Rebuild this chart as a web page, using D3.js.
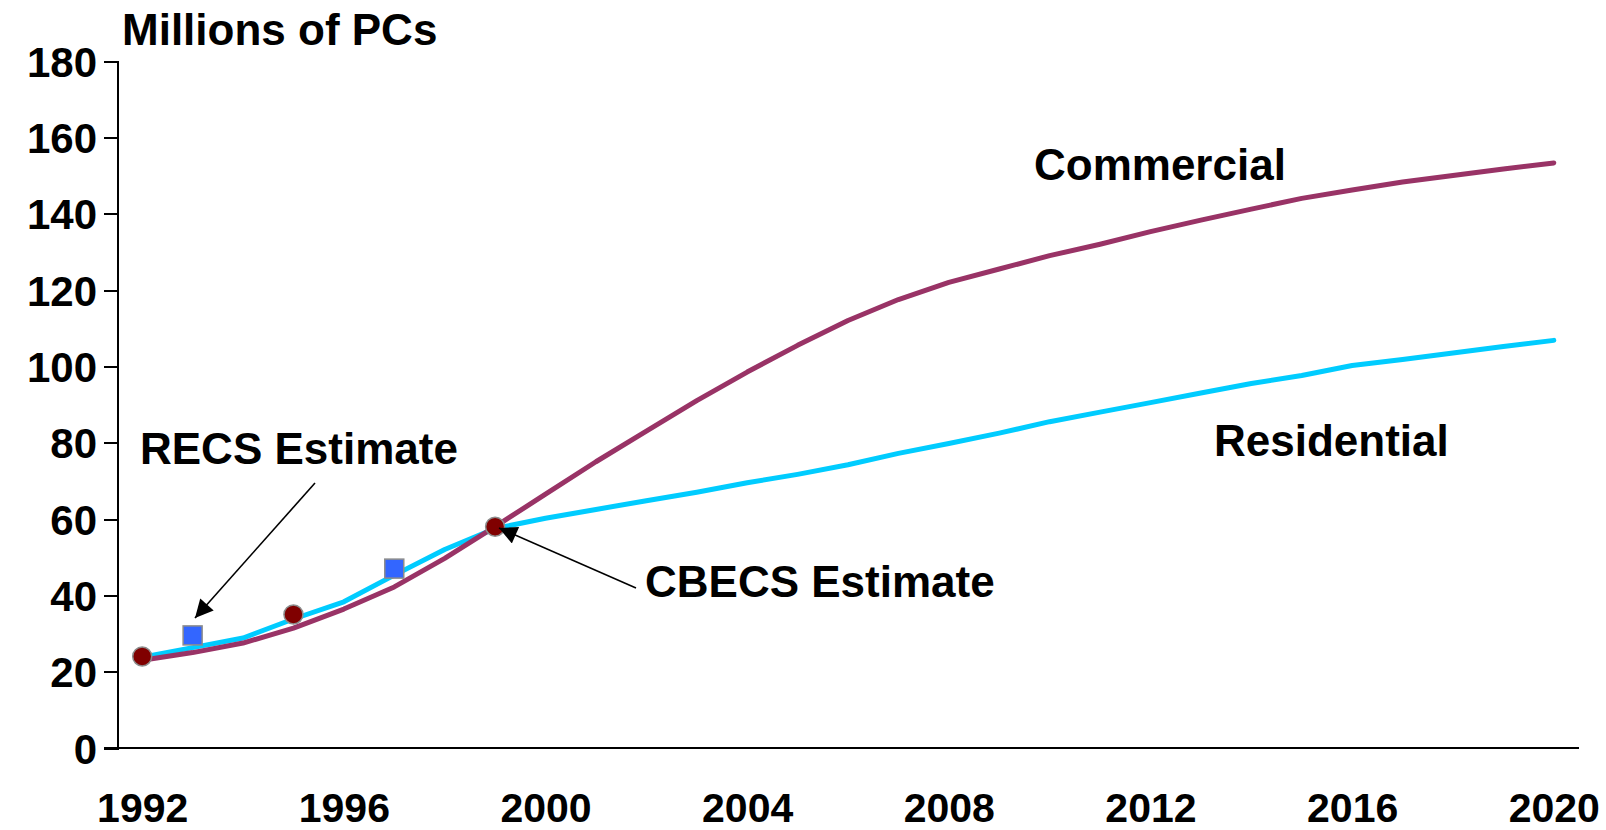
<!DOCTYPE html>
<html>
<head>
<meta charset="utf-8">
<script src="https://cdn.jsdelivr.net/npm/d3@7"></script>
<style>
  html, body { margin: 0; padding: 0; background: #fff; }
  svg { display: block; font-family: "Liberation Sans", Arial, sans-serif; font-weight: bold; }
</style>
</head>
<body>
<svg id="chart" width="1606" height="830"></svg>
<script>
// Installed base of PCs, millions
const years = d3.range(1992, 2021);
const commercial = [23, 25, 27.5, 31.4, 36.4, 42.2, 49.7, 58, 66.5, 75, 83, 91, 98.5, 105.5, 112, 117.5,
  122, 125.5, 129, 132, 135.3, 138.3, 141.2, 144, 146.2, 148.3, 150, 151.7, 153.3];
const residential = [23.8, 26.3, 28.8, 33.8, 38.3, 45.3, 52, 57.5, 60.2, 62.5, 64.8, 67, 69.5, 71.7, 74.2, 77.2,
  79.8, 82.5, 85.5, 88, 90.5, 93, 95.5, 97.6, 100.2, 101.8, 103.5, 105.2, 106.8];

// Survey estimates
const cbecsYears = [1992, 1995, 1999];
const cbecsValues = [24, 35, 58];
const recsYears = [1993, 1997];
const recsValues = [29.5, 47];

const yTicks = [0, 20, 40, 60, 80, 100, 120, 140, 160, 180];
const xTickYears = [1992, 1996, 2000, 2004, 2008, 2012, 2016, 2020];

const svg = d3.select("#chart");

const x = d3.scalePoint().domain(years).range([117, 1579]).padding(0.5);
const y = d3.scaleLinear().domain([0, 180]).range([748, 61]);

// Y axis
const yAxis = svg.append("g")
  .attr("transform", "translate(117,0)")
  .call(d3.axisLeft(y).tickValues(yTicks).tickSize(13).tickPadding(7));
yAxis.select(".domain").attr("stroke", "#000").attr("stroke-width", 2);
yAxis.selectAll(".tick line").attr("stroke", "#000").attr("stroke-width", 2);
yAxis.selectAll(".tick text")
  .attr("font-size", 42).attr("font-weight", "bold").attr("fill", "#000")
  .attr("dy", "0.36em");

// X axis
const xAxis = svg.append("g")
  .attr("transform", "translate(0,748)")
  .call(d3.axisBottom(x).tickValues(xTickYears).tickSize(0).tickPadding(0).tickSizeOuter(0));
xAxis.select(".domain").attr("stroke", "#000").attr("stroke-width", 2)
  .attr("d", "M104,0H1579");
xAxis.selectAll(".tick text")
  .attr("font-size", 41).attr("font-weight", "bold").attr("fill", "#000")
  .attr("y", 74).attr("dy", 0);
svg.selectAll(".domain, .tick line").attr("shape-rendering", "crispEdges");

// Axis title
svg.append("text").attr("x", 122).attr("y", 45)
  .attr("font-size", 44).attr("fill", "#000").text("Millions of PCs");

// Series lines
const line = d3.line().x((d, i) => x(years[i])).y(d => y(d));
svg.append("path").datum(residential)
  .attr("fill", "none").attr("stroke", "#00CCFF").attr("stroke-width", 5)
  .attr("stroke-linejoin", "round").attr("stroke-linecap", "round")
  .attr("d", line);
svg.append("path").datum(commercial)
  .attr("fill", "none").attr("stroke", "#993366").attr("stroke-width", 5)
  .attr("stroke-linejoin", "round").attr("stroke-linecap", "round")
  .attr("d", line);

// Survey markers
svg.selectAll(".cbecs").data(cbecsYears).join("circle")
  .attr("class", "cbecs")
  .attr("cx", d => x(d)).attr("cy", (d, i) => y(cbecsValues[i])).attr("r", 9.5)
  .attr("fill", "#800000").attr("stroke", "#8c8c8c").attr("stroke-width", 1.5);
svg.selectAll(".recs").data(recsYears).join("rect")
  .attr("class", "recs")
  .attr("x", d => x(d) - 9.5).attr("y", (d, i) => y(recsValues[i]) - 9.5)
  .attr("width", 19).attr("height", 19)
  .attr("fill", "#3366FF").attr("stroke", "#8c8c8c").attr("stroke-width", 1.5);

// Arrow marker
svg.append("defs").append("marker")
  .attr("id", "head").attr("viewBox", "0 0 10 10").attr("refX", 10).attr("refY", 5)
  .attr("markerWidth", 22).attr("markerHeight", 18).attr("markerUnits", "userSpaceOnUse")
  .attr("orient", "auto")
  .append("path").attr("d", "M0,0L10,5L0,10Z").attr("fill", "#000");

// Series labels
svg.append("text").attr("x", 1034).attr("y", 180).attr("font-size", 44).attr("fill", "#000").text("Commercial");
svg.append("text").attr("x", 1214).attr("y", 456).attr("font-size", 44).attr("fill", "#000").text("Residential");

// Callouts
svg.append("text").attr("x", 140).attr("y", 464).attr("font-size", 44).attr("fill", "#000").text("RECS Estimate");
svg.append("line").attr("x1", 315).attr("y1", 483).attr("x2", 195).attr("y2", 618)
  .attr("stroke", "#000").attr("stroke-width", 1.6).attr("marker-end", "url(#head)");

svg.append("text").attr("x", 645).attr("y", 597).attr("font-size", 44).attr("fill", "#000").text("CBECS Estimate");
svg.append("line").attr("x1", 636).attr("y1", 588).attr("x2", 499).attr("y2", 528)
  .attr("stroke", "#000").attr("stroke-width", 1.6).attr("marker-end", "url(#head)");
</script>
</body>
</html>
